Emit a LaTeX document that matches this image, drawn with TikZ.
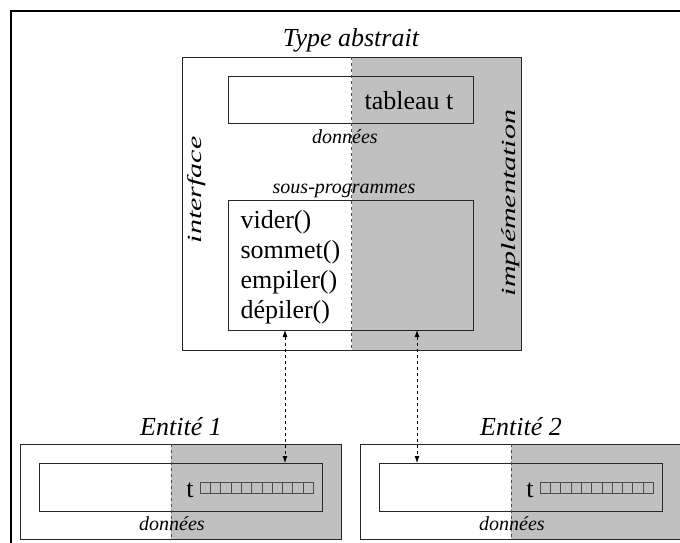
\documentclass[tikz,border=0pt]{standalone}
\usepackage{fontspec}
\setmainfont{Liberation Serif}
\newfontfamily\etire{Liberation Serif}[FakeStretch=1.5]
\usetikzlibrary{backgrounds, arrows.meta}
\definecolor{grisfond}{RGB}{192,192,192}

\begin{document}
\begin{tikzpicture}[>={Latex[length=7pt, width=5pt]}, x=1pt, y=-1pt,
		boite/.style={draw=black!85, line width=0.8pt, inner sep=0pt, outer sep=0pt},
		grand/.style={font=\fontsize{26}{30}\selectfont},
		titre/.style={font=\fontsize{26}{30}\selectfont\itshape},
		petit/.style={font=\fontsize{20}{24}\selectfont\itshape},
		vertical/.style={font=\etire\fontsize{20}{24}\selectfont\itshape, rotate=90},
		separation/.style={dashed, line width=0.8pt, draw=black!70},
		lien/.style={<->, dashed, line width=0.8pt},
		case/.style={fill=grisfond, draw=black!70, line width=0.6pt}]
	\useasboundingbox (0,0) rectangle (680,542);
	\clip (0,0) rectangle (680,542);
	
	% 1. 外框 (只见左边和上边)
	\draw[line width=2pt] (11,560) -- (11,11) -- (700,11);
	
	% 2. 抽象类型的框
	\node[boite, minimum width=339, minimum height=293] (type) at (351.5,203.5) {};
	\node[boite, minimum width=245, minimum height=47] (tableau) at (350.5,99.5) {};
	\node[boite, minimum width=245, minimum height=130] (sousprog) at (350.5,265) {};
	\begin{scope}[on background layer]
		\fill[grisfond] (type.north) rectangle (type.south east);
	\end{scope}
	\draw[separation] (type.north) -- (type.south);
	
	% 3. 文字
	\node[titre, anchor=base] (titretype) at (351,46) {Type abstrait};
	\node[grand, anchor=base] (tab) at (409,109) {tableau t};
	\node[petit, anchor=base] (donnees) at (345,143) {données};
	\node[petit, anchor=base] (sp) at (344,193) {sous-programmes};
	\foreach \nom [count=\i] in {vider(), sommet(), empiler(), dépiler()}
		\node[grand, anchor=base west] (f\i) at (237,198+30*\i) {\nom};
	\node[vertical] (interface) at (197,190) {interface};
	\node[vertical] (impl) at (511,203) {implémentation};
	
	% 4. 两个实体
	\foreach \n/\dx in {1/0, 2/340} {
		\begin{scope}[xshift=\dx]
			\coordinate (sep\n) at (171,0);
			\node[boite, minimum width=321, minimum height=95] (ent\n) at (180.5,491.5) {};
			\node[boite, minimum width=283, minimum height=48] (don\n) at (180.5,487) {};
			\begin{scope}[on background layer]
				\fill[grisfond] (ent\n.north -| sep\n) rectangle (ent\n.south east);
			\end{scope}
			\draw[separation] (ent\n.north -| sep\n) -- (ent\n.south -| sep\n);
			\node[titre, anchor=base] (nom\n) at (181,435) {Entité \n};
			\node[petit, anchor=base] (dn\n) at (172,530) {données};
			\node[grand, anchor=base] (t\n) at (190,497) {t};
			\foreach \k in {0,...,10}
				\draw[case] (200+\k*10.3,482) rectangle ++(10.3,11);
		\end{scope}
	}
	
	% 5. 虚线双向箭头
	\coordinate (a1) at (285,0);
	\coordinate (a2) at (417,0);
	\draw[lien] (sousprog.south -| a1) -- (don1.north -| a1);
	\draw[lien] (sousprog.south -| a2) -- (don2.north -| a2);
	
\end{tikzpicture}
\end{document}
